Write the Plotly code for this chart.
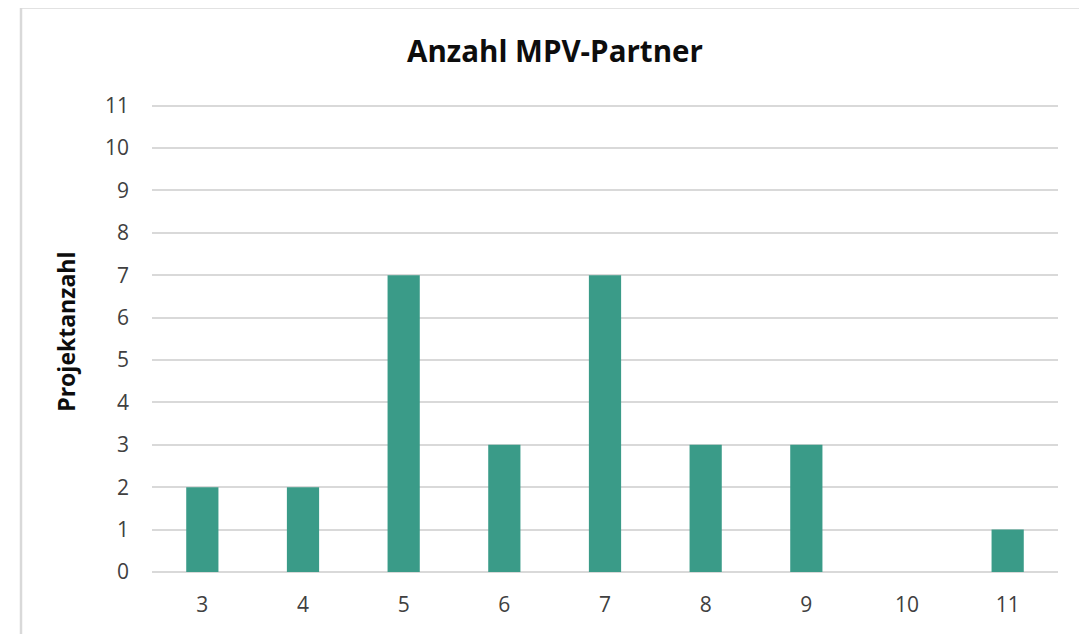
import plotly.graph_objects as go

categories = ["3", "4", "5", "6", "7", "8", "9", "10", "11"]
values = [2, 2, 7, 3, 7, 3, 3, 0, 1]
y_ticks = list(range(0, 12))

YMAX = 11.06
OFF = 8  # page body margin
W, H = 1087 - OFF, 634 - OFF
ZERO_Y, TOP11_Y = 572, 106
unit = (ZERO_Y - TOP11_Y) / 11
L, R = 152 - OFF, 1058 - OFF
B = ZERO_Y - OFF
T = ZERO_Y - unit * YMAX - OFF

def px(x):
    return (x - OFF - L) / (R - L)

def py(y):
    return (B - (y - OFF)) / (B - T)

fig = go.Figure(go.Bar(
    x=categories, y=values,
    marker=dict(color="#3A9B88", line=dict(width=0)),
    hoverinfo="x+y",
))

font = "Open Sans, Noto Sans, DejaVu Sans, sans-serif"

fig.update_layout(
    width=W, height=H,
    margin=dict(l=L, r=W - R, t=T, b=H - B, pad=0),
    paper_bgcolor="white", plot_bgcolor="white",
    bargap=0.68,
    showlegend=False,
    font=dict(family=font, size=21, color="#404040"),
    title=dict(text="<b>Anzahl MPV-Partner</b>", x=(555 - OFF) / W, xanchor="center",
               y=1 - (52 - OFF) / H, yanchor="middle",
               font=dict(family=font, size=29.5, color="#0D0D0D")),
    xaxis=dict(type="category", showgrid=False, showline=False, ticks="",
               tickfont=dict(size=21, color="#404040"), ticklabelstandoff=18,
               fixedrange=True),
    yaxis=dict(range=[0, YMAX], tickvals=y_ticks, showgrid=True,
               gridcolor="#D9D9D9", gridwidth=1.5, zeroline=True,
               zerolinecolor="#D9D9D9", zerolinewidth=1.5, showline=False,
               ticks="", tickfont=dict(size=21, color="#404040"),
               ticklabelstandoff=22, fixedrange=True),
    annotations=[dict(text="<b>Projektanzahl</b>", xref="paper", yref="paper",
                      x=px(66), y=py(332), textangle=-90, showarrow=False,
                      xanchor="center", yanchor="middle",
                      font=dict(family=font, size=23, color="#0D0D0D"))],
    shapes=[
        dict(type="line", xref="paper", yref="paper", x0=px(21), x1=px(21),
             y0=py(8), y1=py(640), line=dict(color="#D9D9D9", width=2.5)),
        dict(type="line", xref="paper", yref="paper", x0=px(21), x1=px(1095),
             y0=py(8), y1=py(8), line=dict(color="#D9D9D9", width=2.5)),
    ],
)

fig.write_html("out.html")
